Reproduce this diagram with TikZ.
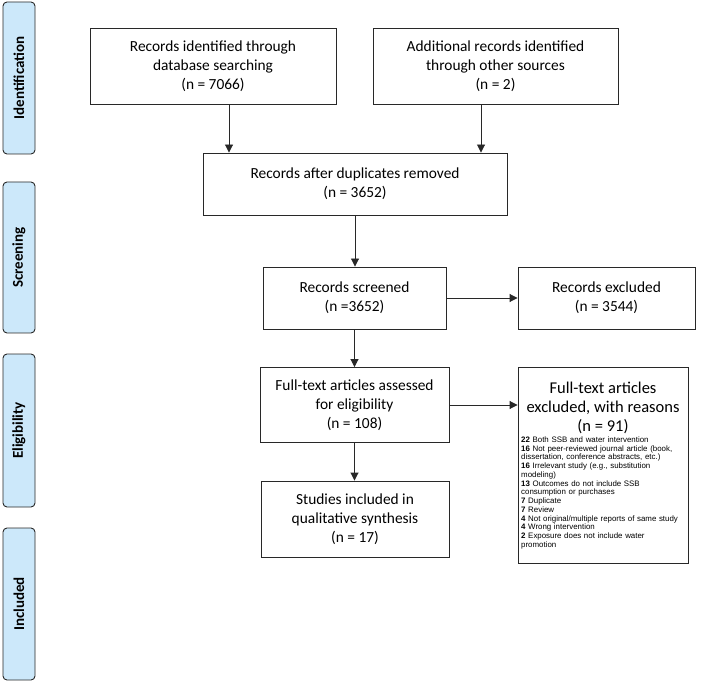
\documentclass[tikz,border=0pt]{standalone}
\usepackage{fontspec}
\setmainfont{Carlito}
\newfontfamily\reasonfont{Liberation Sans}
\usetikzlibrary{arrows.meta}
\definecolor{phase}{RGB}{204,232,250}
\definecolor{edge}{RGB}{40,40,40}
\begin{document}
\begin{tikzpicture}[x=1pt,y=-1pt,
  box/.style={draw=edge,line width=0.9pt,align=center,inner sep=0pt,
    font=\fontsize{15.4}{19}\selectfont},
  phasebox/.style={draw=edge,line width=0.9pt,fill=phase,rounded corners=4pt,
    minimum width=32pt,inner sep=0pt},
  phasetext/.style={rotate=90,font=\fontsize{15}{17}\selectfont\bfseries},
  arr/.style={-{Triangle[length=8pt,width=8pt]},draw=edge,line width=0.9pt}]
\useasboundingbox (0,0) rectangle (709,684);
% phase labels
\node[phasebox,minimum height=152pt] (p1) at (19,78) {};
\node[phasetext] (p1t) at (p1.center) {Identification};
\node[phasebox,minimum height=151pt] (p2) at (19,257.5) {};
\node[phasetext] (p2t) at (p2.center) {Screening};
\node[phasebox,minimum height=153pt] (p3) at (19,430.5) {};
\node[phasetext] (p3t) at (p3.center) {Eligibility};
\node[phasebox,minimum height=152pt] (p4) at (19,604) {};
\node[phasetext] (p4t) at (p4.center) {Included};
% boxes
\node[box,minimum width=246pt,minimum height=76pt] (b1) at (213,66)
  {Records identified through\\database searching\\(n = 7066)};
\node[box,minimum width=245pt,minimum height=76pt] (b2) at (495.5,66)
  {Additional records identified\\through other sources\\(n = 2)};
\node[box,minimum width=304pt,minimum height=62pt] (b3) at (355,184)
  {Records after duplicates removed\\(n = 3652)};
\node[box,minimum width=183pt,minimum height=62pt] (b4) at (354.5,298)
  {Records screened\\(n =3652)};
\node[box,minimum width=177pt,minimum height=62pt] (b5) at (606.5,298)
  {Records excluded\\(n = 3544)};
\node[box,minimum width=189pt,minimum height=75pt] (b6) at (354.5,405)
  {Full-text articles assessed\\for eligibility\\(n = 108)};
\node[box,minimum width=170pt,minimum height=196pt] (b7) at (603,465) {};
\node[align=center,inner sep=0pt,font=\fontsize{16.5}{19}\selectfont] (b7h) at (603,408)
  {Full-text articles\\excluded, with reasons\\(n = 91)};
\node[anchor=north west,align=left,inner sep=0pt,text width=166pt,
  font=\reasonfont\fontsize{7.9}{8.75}\selectfont] (b7r) at (521,436.5)
  {\textbf{22} Both SSB and water intervention\\
   \textbf{16} Not peer-reviewed journal article (book,\\
   dissertation, conference abstracts, etc.)\\
   \textbf{16} Irrelevant study (e.g., substitution\\
   modeling)\\
   \textbf{13} Outcomes do not include SSB\\
   consumption or purchases\\
   \textbf{7} Duplicate\\
   \textbf{7} Review\\
   \textbf{4} Not original/multiple reports of same study\\
   \textbf{4} Wrong intervention\\
   \textbf{2} Exposure does not include water\\
   promotion};
\node[box,minimum width=188pt,minimum height=76pt] (b8) at (355,519)
  {Studies included in\\qualitative synthesis\\(n = 17)};
% connectors
\draw[arr] ([xshift=16pt]b1.south) -- ([xshift=16pt]b1.south |- b3.north);
\draw[arr] ([xshift=-14.5pt]b2.south) -- ([xshift=-14.5pt]b2.south |- b3.north);
\draw[arr] (b3.south) -- (b3.south |- b4.north);
\draw[arr] (b4.east) -- (b5.west);
\draw[arr] (b4.south) -- (b4.south |- b6.north);
\draw[arr] (b6.east) -- (b6.east -| b7.west);
\draw[arr] (b6.south) -- (b6.south |- b8.north);
\end{tikzpicture}
\end{document}
